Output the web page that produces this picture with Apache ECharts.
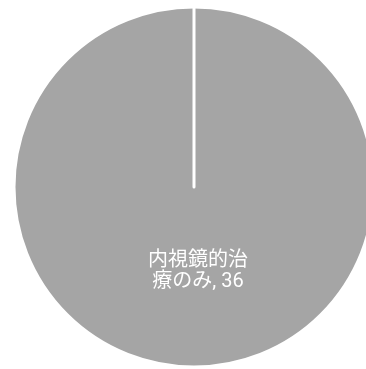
<!DOCTYPE html>
<html><head><meta charset="utf-8">
<script src="https://cdn.jsdelivr.net/npm/echarts@6/dist/echarts.min.js"></script>
<style>html,body{margin:0;padding:0;background:#fff}#c{width:366px;height:369px}</style>
</head><body><div id="c"></div>
<script>
const categories = ['内視鏡的治療のみ'];
const values = [36];

const chart = echarts.init(document.getElementById('c'), null, {renderer:'canvas'});
const data = categories.map((n,i)=>({name:n, value:values[i]}));
// zero-width separator at the start angle (Excel-style slice border)
data.push({name:'', value:0, label:{show:false}, labelLine:{show:false}});
chart.setOption({
  animation:false,
  series:[{
    type:'pie',
    center:[194,187],
    radius:[0,180],
    startAngle:90,
    clockwise:true,
    avoidLabelOverlap:false,
    stillShowZeroSum:true,
    itemStyle:{color:'#a5a5a5', borderColor:'#ffffff', borderWidth:3},
    emphasis:{disabled:true},
    label:{
      show:true, position:'inside', color:'#ffffff',
      fontFamily:'Roboto, "Noto Sans CJK JP", sans-serif', fontSize:20, lineHeight:21,
      offset:[4,-9],
      formatter: p => '内視鏡的治\n療のみ, ' + p.value
    },
    labelLine:{show:false},
    data:data
  }]
});
</script></body></html>
